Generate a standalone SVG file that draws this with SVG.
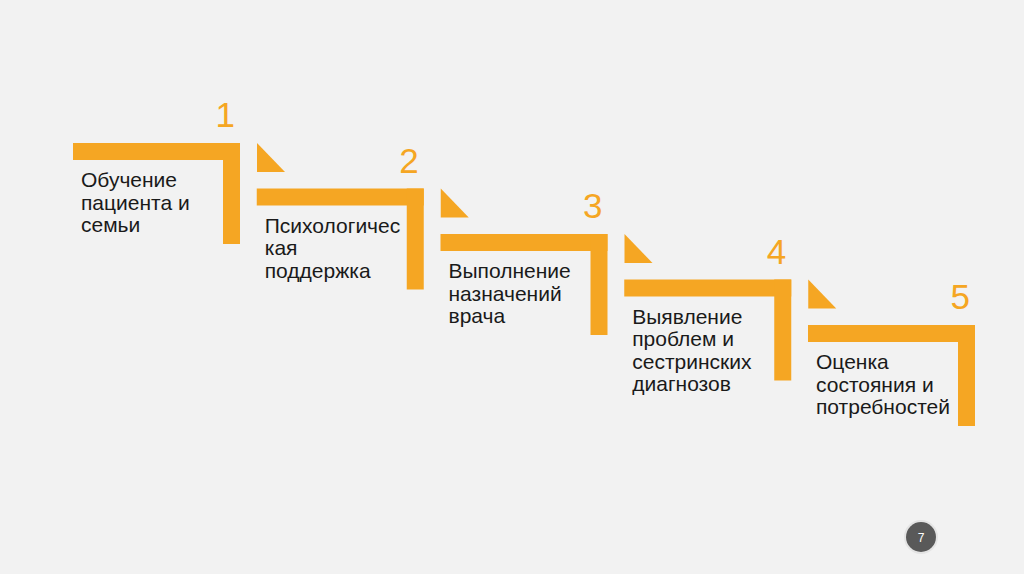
<svg xmlns="http://www.w3.org/2000/svg" width="1024" height="574" viewBox="0 0 1024 574">
<style>
.bar{fill:#F5A623}
.num{font-family:"Liberation Sans",Arial,sans-serif;font-size:35px;fill:#F5A623;text-anchor:end}
.lbl{font-family:"Liberation Sans",Arial,sans-serif;font-size:21px;fill:#1A1A1A}
</style>
<rect width="1024" height="574" fill="#F2F2F2"/>
<defs>
<g id="stepShape">
<rect class="bar" x="0" y="0" width="167" height="17"/>
<rect class="bar" x="150" y="0" width="17" height="101"/>
</g>
<polygon id="tri" class="bar" points="0,0 0,29 28,29"/>
</defs>
<g id="node1" transform="translate(73,143)">
<use href="#stepShape"/>
<text class="num" x="162" y="-16">1</text>
<text class="lbl" x="8" y="44">Обучение</text>
<text class="lbl" x="8" y="66.5">пациента и</text>
<text class="lbl" x="8" y="89">семьи</text>
</g>
<g id="node2" transform="translate(256.75,188.5)">
<use href="#stepShape"/>
<text class="num" x="162" y="-16">2</text>
<text class="lbl" x="8" y="44">Психологичес</text>
<text class="lbl" x="8" y="66.5">кая</text>
<text class="lbl" x="8" y="89">поддержка</text>
</g>
<g id="node3" transform="translate(440.5,234)">
<use href="#stepShape"/>
<text class="num" x="162" y="-16">3</text>
<text class="lbl" x="8" y="44">Выполнение</text>
<text class="lbl" x="8" y="66.5">назначений</text>
<text class="lbl" x="8" y="89">врача</text>
</g>
<g id="node4" transform="translate(624.25,279.5)">
<use href="#stepShape"/>
<text class="num" x="162" y="-16">4</text>
<text class="lbl" x="8" y="44">Выявление</text>
<text class="lbl" x="8" y="66.5">проблем и</text>
<text class="lbl" x="8" y="89">сестринских</text>
<text class="lbl" x="8" y="111.5">диагнозов</text>
</g>
<g id="node5" transform="translate(808,325)">
<use href="#stepShape"/>
<text class="num" x="162" y="-16">5</text>
<text class="lbl" x="8" y="44">Оценка</text>
<text class="lbl" x="8" y="66.5">состояния и</text>
<text class="lbl" x="8" y="89">потребностей</text>
</g>
<g id="connectors">
<use href="#tri" x="257" y="143"/>
<use href="#tri" x="440.75" y="188.5"/>
<use href="#tri" x="624.5" y="234"/>
<use href="#tri" x="808.25" y="279.5"/>
</g>
<g id="page">
<circle cx="921" cy="537" r="16" fill="none" stroke="#E4E4E4" stroke-width="2"/>
<circle cx="921" cy="537" r="15" fill="#595959"/>
<text x="921" y="541.5" font-family="Liberation Sans,Arial,sans-serif" font-size="12" fill="#FFFFFF" text-anchor="middle">7</text>
</g>
</svg>
